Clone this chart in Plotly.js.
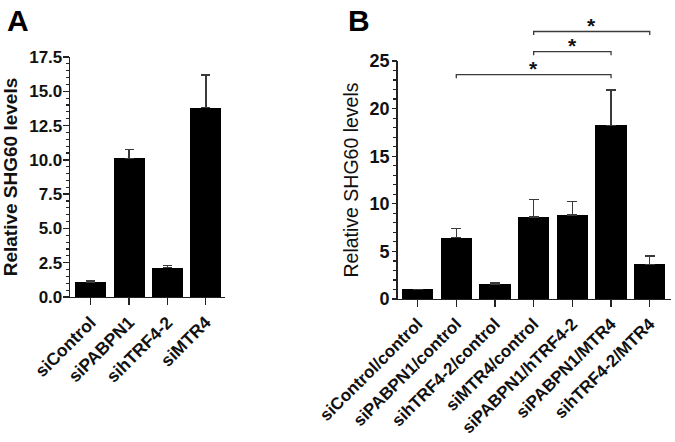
<!DOCTYPE html>
<html>
<head>
<meta charset="utf-8">
<script src="https://cdn.plot.ly/plotly-3.0.1.min.js"></script>
<style>html,body{margin:0;padding:0;background:#fff}#chart{width:675px;height:442px}</style>
</head>
<body>
<div id="chart"></div>
<script>
// Panel A data
const catsA = ['siControl', 'siPABPN1', 'sihTRF4-2', 'siMTR4'];
const valsA = [1.1, 10.1, 2.15, 13.8];
const errA = [0.1, 0.65, 0.15, 2.4];

// Panel B data
const catsB = ['siControl/control', 'siPABPN1/control', 'sihTRF4-2/control', 'siMTR4/control',
               'siPABPN1/hTRF4-2', 'siPABPN1/MTR4', 'sihTRF4-2/MTR4'];
const valsB = [1.0, 6.45, 1.55, 8.6, 8.8, 18.25, 3.65];
const errB = [0, 0.97, 0.17, 1.87, 1.45, 3.73, 0.88];

// Significance brackets for panel B (category indices, bracket height, label)
const sigFrom = [1, 3, 3];
const sigTo = [5, 5, 6];
const sigY = [23.56, 25.98, 28.1];
const sigLabel = ['*', '*', '*'];

// y-axis tick settings
const yMaxA = 17.5, majorA = 2.5, minorA = 0.5;
const yMaxB = 25, majorB = 5, minorB = 1;

const W = 675, H = 442;
const FONT = 'Liberation Sans, Arial, Helvetica, sans-serif';
const AXC = '#222';

const idxA = catsA.map((_, i) => i);
const idxB = catsB.map((_, i) => i);

function tickSet(max, major, minor, dec) {
  const vals = [], text = [];
  const n = Math.round(max / minor);
  const every = Math.round(major / minor);
  for (let i = 0; i <= n; i++) {
    vals.push(i * minor);
    text.push(i % every === 0 ? (i * minor).toFixed(dec) : '');
  }
  return {vals, text};
}
const tA = tickSet(yMaxA, majorA, minorA, 1);
const tB = tickSet(yMaxB, majorB, minorB, 0);

const traces = [];
traces.push({
  type: 'bar', x: idxA, y: valsA, xaxis: 'x', yaxis: 'y',
  width: 0.81, marker: {color: '#000', line: {width: 0}},
  error_y: {type: 'data', array: errA, arrayminus: errA.map(() => 0), color: '#3a3a3a', thickness: 1.5, width: 4.5},
  hoverinfo: 'skip', showlegend: false
});
traces.push({
  type: 'bar', x: idxB, y: valsB, xaxis: 'x2', yaxis: 'y2',
  width: 0.81, marker: {color: '#000', line: {width: 0}},
  error_y: {type: 'data', array: errB, arrayminus: errB.map(() => 0), color: '#3a3a3a', thickness: 1.5, width: 5},
  hoverinfo: 'skip', showlegend: false
});
// invisible traces on separate subplots that carry the longer major ticks
traces.push({type: 'scatter', mode: 'markers', x: [idxA[0]], y: [valsA[0]], xaxis: 'x4', yaxis: 'y4',
  marker: {opacity: 0}, showlegend: false, hoverinfo: 'skip'});
traces.push({type: 'scatter', mode: 'markers', x: [idxB[0]], y: [valsB[0]], xaxis: 'x5', yaxis: 'y5',
  marker: {opacity: 0}, showlegend: false, hoverinfo: 'skip'});

// brackets
const drop = 0.38;
const annotations = [];
for (let k = 0; k < sigFrom.length; k++) {
  traces.push({
    type: 'scatter', mode: 'lines', xaxis: 'x3', yaxis: 'y3',
    x: [sigFrom[k], sigFrom[k], sigTo[k], sigTo[k]],
    y: [sigY[k] - drop, sigY[k], sigY[k], sigY[k] - drop],
    line: {color: '#3a3a3a', width: 1.3}, hoverinfo: 'skip', showlegend: false
  });
  annotations.push({
    text: sigLabel[k], xref: 'x3', yref: 'y3',
    x: (sigFrom[k] + sigTo[k]) / 2, y: sigY[k],
    xanchor: 'center', yanchor: 'middle', yshift: 6, showarrow: false,
    font: {family: FONT, size: 21, color: '#111', weight: 700}
  });
}

const yDomA = [1 - 297 / H, 1 - 57 / H];
const yDomB = [1 - 299 / H, 1 - 61 / H];
const xDomA = [70 / W, 225 / W];
const xDomB = [397.5 / W, 671 / W];
const y3Top = yMaxB * (1 - yDomB[0]) / (yDomB[1] - yDomB[0]);

const common = {
  showline: true, linecolor: AXC, linewidth: 1.3, ticks: 'outside', tickcolor: AXC,
  tickwidth: 1.3, showgrid: false, zeroline: false, fixedrange: true
};
const majorY = {
  showline: false, showgrid: false, zeroline: false, showticklabels: false,
  ticks: 'outside', tickwidth: 1.3, tickcolor: AXC, tickmode: 'linear', tick0: 0,
  side: 'left', fixedrange: true
};
const hiddenX = {visible: false, showgrid: false, zeroline: false, fixedrange: true};

annotations.push(
  {text: 'A', xref: 'paper', yref: 'paper', x: 5 / W, y: 1 - 2 / H, xanchor: 'left', yanchor: 'top',
   showarrow: false, font: {family: FONT, size: 30, weight: 700, color: '#000'}},
  {text: 'B', xref: 'paper', yref: 'paper', x: 346 / W, y: 1 - 2 / H, xanchor: 'left', yanchor: 'top',
   showarrow: false, font: {family: FONT, size: 30, weight: 700, color: '#000'}}
);

const layout = {
  width: W, height: H,
  margin: {l: 0, r: 0, t: 0, b: 0},
  paper_bgcolor: '#fff', plot_bgcolor: 'rgba(0,0,0,0)',
  bargap: 0,
  font: {family: FONT, color: '#111'},
  xaxis: Object.assign({}, common, {
    domain: xDomA, anchor: 'y', range: [-0.54, 3.5],
    tickvals: idxA, ticktext: catsA, tickangle: -45, ticklen: 7,
    tickfont: {family: FONT, size: 17.5, weight: 700, color: '#111'}
  }),
  yaxis: Object.assign({}, common, {
    domain: yDomA, anchor: 'x', range: [0, yMaxA], tickmode: 'array', tickvals: tA.vals, ticktext: tA.text,
    ticklen: 3, tickwidth: 1.2,
    tickfont: {family: FONT, size: 17, weight: 700, color: '#111'},
    title: {text: 'Relative SHG60 levels', font: {family: FONT, size: 19, weight: 700, color: '#111'}, standoff: 10}
  }),
  xaxis4: Object.assign({}, hiddenX, {domain: xDomA, anchor: 'y4', range: [-0.54, 3.5]}),
  yaxis4: Object.assign({}, majorY, {domain: yDomA, anchor: 'x4', range: [0, yMaxA], dtick: majorA, ticklen: 6}),
  xaxis2: Object.assign({}, common, {
    domain: xDomB, anchor: 'y2', range: [-0.52, 6.55],
    tickvals: idxB, ticktext: catsB, tickangle: -45, ticklen: 7,
    tickfont: {family: FONT, size: 17, weight: 700, color: '#111'}
  }),
  yaxis2: Object.assign({}, common, {
    domain: yDomB, anchor: 'x2', range: [0, yMaxB], tickmode: 'array', tickvals: tB.vals, ticktext: tB.text,
    ticklen: 3, tickwidth: 1.2,
    tickfont: {family: FONT, size: 18, weight: 700, color: '#111'},
    title: {text: 'Relative SHG60 levels', font: {family: FONT, size: 19.5, color: '#111'}, standoff: 5}
  }),
  xaxis5: Object.assign({}, hiddenX, {domain: xDomB, anchor: 'y5', range: [-0.52, 6.55]}),
  yaxis5: Object.assign({}, majorY, {domain: yDomB, anchor: 'x5', range: [0, yMaxB], dtick: majorB, ticklen: 5}),
  xaxis3: {domain: xDomB, anchor: 'y3', range: [-0.52, 6.55], visible: false, fixedrange: true},
  yaxis3: {domain: [yDomB[0], 1], anchor: 'x3', range: [0, y3Top], visible: false, fixedrange: true},
  annotations: annotations
};

Plotly.newPlot('chart', traces, layout, {staticPlot: true, displayModeBar: false});
</script>
</body>
</html>
